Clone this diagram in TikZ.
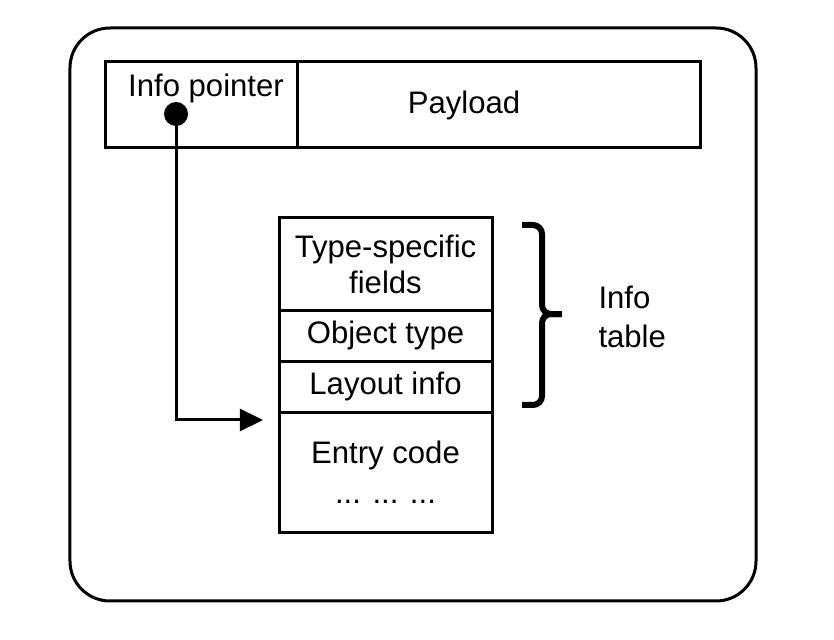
\documentclass[tikz,border=0pt]{standalone}
\usepackage{fontspec}
\setmainfont{Liberation Sans}
\usetikzlibrary{positioning,arrows.meta}
\begin{document}
\begin{tikzpicture}[line width=.1cm, font=\fontsize{29.5}{34}\selectfont,
  cell/.style={draw, rectangle, outer sep=0pt, inner sep=0pt, minimum width=7.1cm, align=center},
  bracepart/.style={line width=.2cm, rounded corners=.3cm}]
\useasboundingbox (0,0) rectangle (27.8,21.3);
\draw[rounded corners=1.33cm] (2.333,1.267) rectangle (25.2,20.367);
% heap object
\node[cell, minimum width=6.4cm, minimum height=2.867cm] (ptrcell) at (6.733,17.8) {}; \node[cell, minimum width=13.433cm, minimum height=2.867cm, right=0pt of ptrcell] (paycell) {};
\node[anchor=base] (ptrtext) at (6.867,18.067) {Info pointer}; \node[anchor=base] (paytext) at (15.467,17.533) {Payload};
\node[circle, fill, inner sep=0pt, minimum size=.8cm] (ptr) at (5.867,17.5) {};
% info table and code
\node[cell, minimum height=3.067cm] (fields) at (12.85,12.5) {Type-specific\\fields};
\node[cell, minimum height=1.7cm, below=0pt of fields] (objtype) {Object type};
\node[cell, minimum height=1.7cm, below=0pt of objtype] (layout) {Layout info};
\node[cell, minimum height=4.033cm, below=0pt of layout] (entry) {Entry code\\[4pt]... ... ...};
\coordinate (hit) at (8.767,7.3);
\draw[-{Triangle[length=.77cm,width=.73cm]}] (ptr.center) |- (hit);
% brace
\coordinate (bracetip) at (18.733,10.833);
\draw[bracepart] (17.4,13.8) -| (18.067,10.833) -- (bracetip); \draw[bracepart] (17.4,7.8) -| (18.067,10.833) -- (bracetip);
\node[anchor=west, align=left, inner sep=0pt] (infotab) at (19.9,10.733) {Info\\[3pt]table};
\end{tikzpicture}
\end{document}
